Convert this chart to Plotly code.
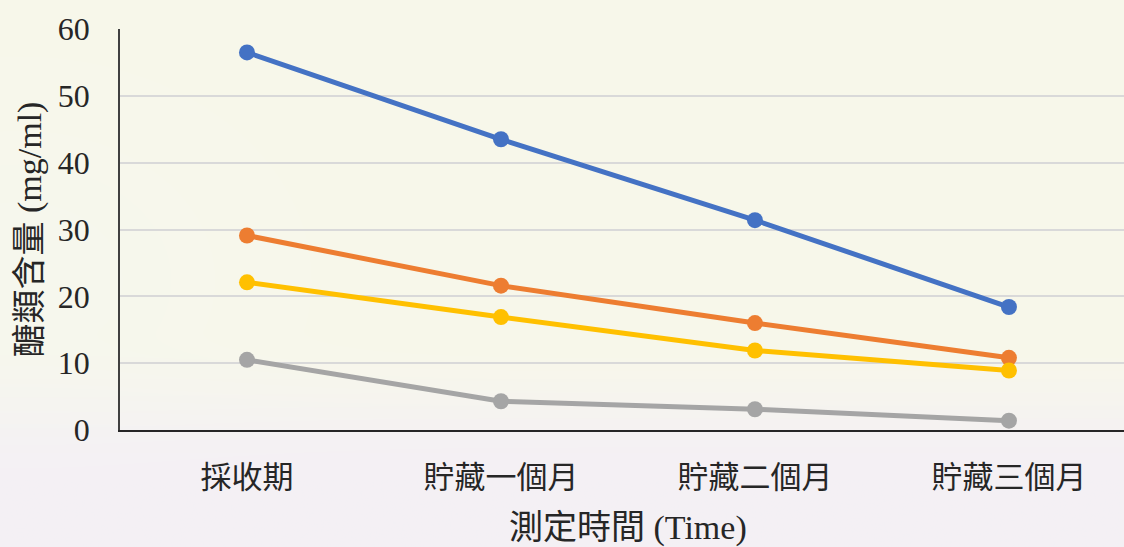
import base64
import struct
import zlib

import numpy as np
import plotly.graph_objects as go

# Storage-time categories and sugar content (mg/ml) for four samples
categories = ["採收期", "貯藏一個月", "貯藏二個月", "貯藏三個月"]
series_blue = [56.5, 43.5, 31.4, 18.4]
series_orange = [29.1, 21.6, 16.0, 10.8]
series_yellow = [22.1, 16.9, 11.9, 8.9]
series_gray = [10.5, 4.3, 3.1, 1.4]
y_ticks = [0, 10, 20, 30, 40, 50, 60]

W, H = 1124, 547
M_L, M_R, M_T, M_B = 120, 0, 29, 117
PLOT_W = W - M_L - M_R
PLOT_H = H - M_T - M_B


def png_uri(arr):
    """Encode an HxWx3 uint8 array as a PNG data URI."""
    h, w, _ = arr.shape
    raw = b"".join(b"\x00" + arr[i].tobytes() for i in range(h))

    def chunk(tag, data):
        return (struct.pack(">I", len(data)) + tag + data
                + struct.pack(">I", zlib.crc32(tag + data) & 0xFFFFFFFF))

    png = (b"\x89PNG\r\n\x1a\n"
           + chunk(b"IHDR", struct.pack(">IIBBBBB", w, h, 8, 2, 0, 0, 0))
           + chunk(b"IDAT", zlib.compress(raw, 9))
           + chunk(b"IEND", b""))
    return "data:image/png;base64," + base64.b64encode(png).decode()


# Soft pastel backdrop: cream at the top fading to pale lavender at the bottom
yy, xx = np.mgrid[0:H, 0:W].astype(float)
top = np.array([248, 248, 234], float)
bottom = np.array([244, 240, 245], float)
side = np.array([244, 246, 244], float)
t = np.clip((yy - 330) / 150, 0, 1)
t = t * t * (3 - 2 * t)
bg = top * (1 - t[..., None]) + bottom * t[..., None]
s = 0.35 * np.exp(-(((xx - 20) / 260) ** 2 + ((yy - 280) / 200) ** 2))
bg = bg * (1 - s[..., None]) + side * s[..., None]
bg_img = np.clip(bg, 0, 255).astype(np.uint8)

serif = "Liberation Serif, Times New Roman, Noto Sans CJK TC, serif"

fig = go.Figure()
for vals, color in [
    (series_blue, "#4472C4"),
    (series_orange, "#ED7D31"),
    (series_yellow, "#FFC000"),
    (series_gray, "#A5A5A5"),
]:
    fig.add_trace(go.Scatter(
        x=categories, y=vals, mode="lines+markers",
        line=dict(color=color, width=5),
        marker=dict(color=color, size=16),
        showlegend=False,
    ))

fig.add_layout_image(dict(
    source=png_uri(bg_img), xref="paper", yref="paper",
    x=-M_L / PLOT_W, y=1 + M_T / PLOT_H,
    sizex=W / PLOT_W, sizey=H / PLOT_H,
    sizing="stretch", xanchor="left", yanchor="top", layer="below",
))

fig.update_layout(
    width=W, height=H,
    margin=dict(l=M_L, r=M_R, t=M_T, b=M_B, pad=0),
    paper_bgcolor="rgba(0,0,0,0)",
    plot_bgcolor="rgba(0,0,0,0)",
    font=dict(family=serif, color="#262626"),
    xaxis=dict(
        type="category", range=[-0.5, 3.453],
        showgrid=False, zeroline=False,
        showline=True, linecolor="#262626", linewidth=2,
        ticks="", tickfont=dict(size=31, family=serif, color="#262626"),
        ticklabelstandoff=19,
    ),
    yaxis=dict(
        range=[0, 60], tickvals=y_ticks,
        showgrid=True, gridcolor="#d9d9d9", gridwidth=1.5,
        zeroline=False, showline=True, linecolor="#404040", linewidth=1.5,
        ticks="", tickfont=dict(size=32, family=serif, color="#262626"),
        ticklabelstandoff=22,
    ),
    annotations=[
        dict(text="醣類含量 (mg/ml)", xref="paper", yref="paper",
             x=(29 - M_L) / PLOT_W, y=0.5, textangle=-90,
             xanchor="center", yanchor="middle", showarrow=False,
             font=dict(size=34, family=serif, color="#262626")),
        dict(text="測定時間 (Time)", xref="paper", yref="paper",
             x=(628 - M_L) / PLOT_W, y=(430 - 528) / PLOT_H,
             xanchor="center", yanchor="middle", showarrow=False,
             font=dict(size=34, family=serif, color="#262626")),
    ],
)

fig.write_html("out.html")
